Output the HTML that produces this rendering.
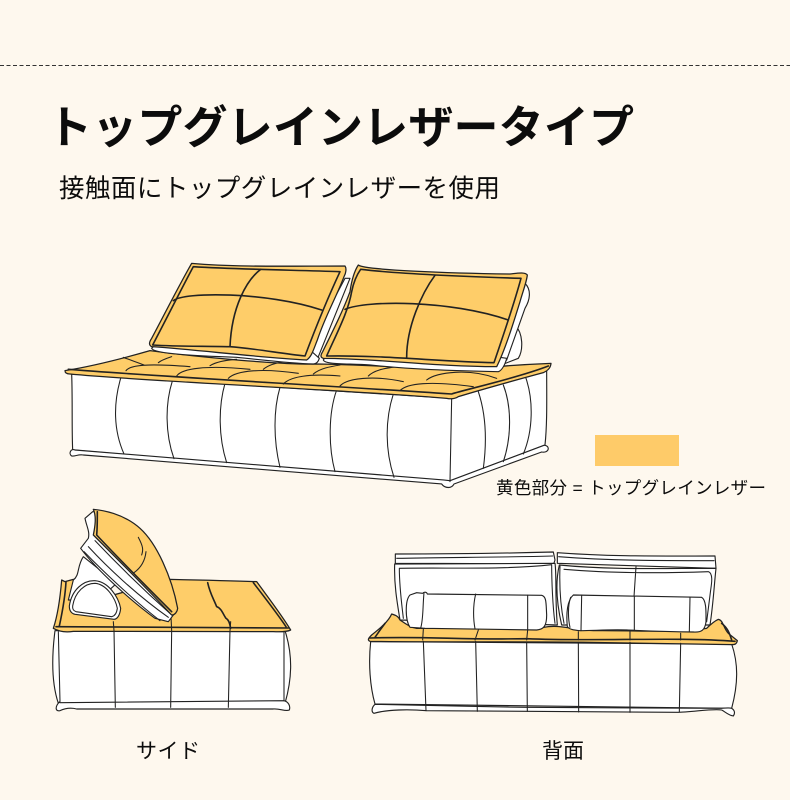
<!DOCTYPE html>
<html lang="ja"><head><meta charset="utf-8"><style>
html,body{margin:0;padding:0;background:#fef8ee}
svg{display:block}
text{font-family:"Liberation Sans","Noto Sans CJK JP",sans-serif;fill:#0c0c0c}
.w{fill:#fff;stroke:#222;stroke-width:3.4;stroke-linejoin:round}
.y{fill:#fecd69;stroke:#222;stroke-width:3.8;stroke-linejoin:round}
.l{fill:none;stroke:#222;stroke-width:3.2;stroke-linecap:round;stroke-linejoin:round}
.n{fill:none;stroke:#222;stroke-width:4.8;stroke-linecap:round;stroke-linejoin:round}
</style></head><body>
<svg width="790" height="800" viewBox="0 0 790 800" xmlns="http://www.w3.org/2000/svg">
<rect width="790" height="800" fill="#fef8ee"/>
<line x1="0" y1="65.5" x2="790" y2="65.5" stroke="#333" stroke-width="1" stroke-dasharray="4 2.5"/>
<text x="47" y="143" font-size="45" font-weight="700" textLength="587" lengthAdjust="spacing">トップグレインレザータイプ</text>
<text x="59" y="197" font-size="25.5" textLength="441" lengthAdjust="spacing">接触面にトップグレインレザーを使用</text>
<rect x="595" y="435" width="84" height="31" fill="#fecb69"/>
<text x="496" y="494" font-size="17.5" textLength="270" lengthAdjust="spacing">黄色部分 = トップグレインレザー</text>
<text x="136" y="758" font-size="21" textLength="64" lengthAdjust="spacing">サイド</text>
<text x="542" y="758" font-size="21" textLength="42" lengthAdjust="spacing">背面</text>

<g transform="translate(50 250) scale(.33333)">
<path class="w" d="M1395,225 C1420,250 1420,300 1405,325 L1340,350 L1370,290Z"/>
<path class="w" d="M1425,100 C1445,120 1440,150 1425,175 L1370,330 L1340,365 L1300,360Z"/>
<path class="w" d="M885,85 L900,85 L805,320 L790,335 L760,320Z"/>
<path class="w" d="M65,372 C68,450 65,530 68,600 L1195,695 L1485,585 C1492,520 1490,440 1490,362 L1205,445Z"/>
<path class="w" d="M75,600 C62,594 55,612 65,618 C75,620 85,612 100,615 L1175,702 C1185,716 1205,716 1212,702 L1475,606 C1500,610 1500,585 1482,586 L1200,692 L1180,690Z"/>
<path class="l" d="M212,385 C190,460 190,540 222,612M368,390 C345,460 345,550 372,626M525,400 C505,470 505,560 530,638M690,412 C670,480 670,570 690,652M860,420 C835,490 835,590 855,665M1030,432 C1005,510 1005,600 1032,682M1205,445 L1200,695M1285,425 C1310,500 1310,580 1300,655M1360,405 C1385,470 1385,560 1360,635M1428,385 C1450,450 1450,540 1420,612"/>
<path class="y" d="M45,362 C120,350 220,325 300,302 C450,322 700,345 805,342 C1000,345 1200,365 1340,350 C1400,345 1450,342 1503,340 C1502,355 1490,364 1480,368 C1380,395 1290,420 1225,440 C1215,447 1200,447 1190,445 C900,420 300,395 60,372 C50,372 45,368 45,362Z"/>
<path class="n" d="M55,358 C300,378 800,405 1205,432 C1240,420 1400,385 1495,348"/>
<path class="l" d="M220,322 C240,330 265,338 282,345M325,338 C335,330 350,325 365,320M228,362 C240,345 290,340 420,350M380,378 C395,355 470,345 600,358M480,347 C500,335 530,330 560,328M535,385 C560,360 640,355 745,370M640,358 C655,345 675,340 700,335M700,402 C720,380 780,370 870,378M790,372 C810,355 840,350 870,345M870,408 C890,385 970,375 1060,395M955,378 C970,362 1000,355 1040,350M1050,422 C1070,400 1140,392 1270,410M1130,390 C1160,365 1260,355 1340,385"/>
<path class="w" d="M305,295 C310,312 450,318 560,322 C640,330 720,340 790,342 C800,342 805,335 808,325 L780,300 L320,280Z"/>
<path class="w" d="M820,330 C825,345 900,340 960,345 C1080,358 1200,362 1345,365 C1355,362 1365,345 1370,325 L1200,300 L840,300Z"/>
<path class="y" d="M425,40 C560,52 720,48 885,48 C890,55 888,70 882,80 C855,150 825,200 802,270 C790,300 785,320 770,330 C620,322 450,300 305,290 C295,285 298,275 305,265 C345,190 385,110 425,40Z"/>
<path class="n" d="M430,50 C560,58 720,60 870,65 C835,140 800,225 765,318 C690,310 610,295 540,290 C460,288 380,290 308,285 C350,205 390,125 430,50Z"/>
<path class="n" d="M370,152 C400,125 650,125 815,180M632,58 C590,90 545,170 540,290"/>
<path class="y" d="M925,45 C940,60 1200,70 1380,72 C1400,70 1425,65 1432,75 C1430,95 1420,120 1410,155 C1390,220 1365,300 1340,350 C1150,350 980,325 820,325 C810,322 812,315 818,305 C850,240 880,180 900,125 C905,90 915,60 925,45Z"/>
<path class="n" d="M932,58 C1050,72 1250,80 1413,85 C1390,170 1360,255 1332,338 C1170,335 1000,315 830,318 C860,250 895,185 905,125 C910,100 920,75 932,58Z"/>
<path class="n" d="M885,178 C950,150 1200,150 1375,210M1155,76 C1115,130 1070,230 1070,322"/>
</g>

<g transform="translate(40 500) scale(.33333)">
<path class="w" d="M45,392 C35,470 35,550 55,610 L735,610 C755,540 760,470 735,392Z"/>
<path class="w" d="M58,606 C45,620 45,635 60,632 C75,625 90,622 110,627 L700,627 C720,625 735,635 748,630 C752,618 745,605 732,602 L60,608Z"/>
<path class="l" d="M55,395 L60,605M222,390 L226,622M395,390 L392,622M570,390 L565,622M732,395 L732,602"/>
<path class="y" d="M65,240 L75,245 L100,238 L130,310 L390,238 C480,240 570,242 650,245 C690,300 725,345 752,390 C740,396 720,396 700,395 L100,394 C80,397 60,397 40,385 C50,355 60,300 65,240Z"/>
<path class="n" d="M48,380 L745,384 M78,245 C75,300 65,345 58,378M640,248 C680,300 715,345 738,380"/>
<path class="l" d="M220,365 L222,392M393,350 L395,392M572,365 L570,392"/>
<path class="n" d="M503,248 C510,280 520,295 530,320 C545,325 550,345 558,355 C568,360 570,375 572,385"/>
<path class="w" d="M130,170 C110,200 120,225 100,240 L85,300 L175,300 L230,250Z"/>
<path class="w" d="M88,318 C95,270 130,240 165,242 C205,245 235,290 242,325 C240,345 232,358 222,358 L105,343 C92,340 88,330 88,318Z"/>
<path class="l" d="M98,318 C105,275 135,250 165,250 C200,253 226,295 232,325 C230,340 225,348 215,350 L108,335 C100,332 97,326 98,318Z"/>
<path class="w" d="M158,35 L135,55 C140,80 150,95 145,115 L122,145 C170,210 270,300 345,355 L385,365 L400,345 L200,120 L172,35Z"/>
<path class="l" d="M132,155 C190,215 280,300 360,362M145,140 C200,200 290,285 385,352M165,122 C220,180 300,260 395,345"/>
<path class="y" d="M160,28 C185,30 250,40 300,85 C350,130 395,230 413,325 C412,335 405,345 395,345 C320,265 235,180 160,105 C165,80 170,50 160,28Z"/>
<path class="n" d="M172,35 C172,60 172,85 170,105 C240,180 325,265 395,335"/>
<path class="l" d="M295,112 C310,140 310,150 305,165M318,155 C315,185 300,205 282,218"/>
</g>

<g transform="translate(360 540) scale(.33333)">
<path class="w" d="M106,42 C250,42 430,40 580,36 L585,60 L580,75 C430,70 250,70 106,70Z"/>
<path class="w" d="M592,38 C750,50 900,48 1065,48 L1068,85 L592,70Z"/>
<path class="l" d="M110,55 C260,52 430,52 578,48M596,50 C750,62 900,62 1062,62"/>
<path class="w" d="M104,72 C250,70 430,72 585,70 C590,100 585,180 592,255 L120,240 C110,180 102,130 104,72Z"/>
<path class="w" d="M598,75 C750,90 900,85 1068,85 C1062,140 1060,190 1050,255 L605,255 C590,190 585,130 598,75Z"/>
<path class="l" d="M118,85 C260,82 430,90 575,74 C575,120 578,200 585,250M118,85 C118,140 125,190 130,235M612,88 C750,100 900,100 1045,95 C1060,100 1055,130 1052,150 L1040,245M600,78 C598,130 600,190 612,250M828,80 L822,170"/>
<path class="w" d="M32,305 C25,370 30,440 45,492 L1115,505 C1135,430 1135,370 1115,312Z"/>
<path class="y" d="M95,222 C105,225 115,228 120,240 C135,250 150,262 170,265 L550,262 C600,252 640,270 700,272 C800,270 950,280 1040,265 C1050,255 1060,245 1075,238 C1090,240 1090,265 1105,280 L1132,302 C1130,312 1125,314 1115,314 L690,307 C500,304 200,307 30,304 C20,300 28,292 35,285 C60,265 85,245 95,222Z"/>
<path class="n" d="M30,294 C200,288 300,300 500,296 C700,305 950,290 1125,304M75,250 C60,270 50,285 45,292M1085,250 C1105,265 1110,285 1115,300"/>
<path class="l" d="M190,268 L188,300M355,270 L345,300M503,270 L500,300M655,275 L655,300M810,275 L810,300M962,280 L962,300"/>
<path class="w" d="M45,493 C35,502 33,516 42,520 C80,508 150,508 200,512 L950,517 C1000,516 1060,505 1085,510 C1095,515 1105,526 1120,528 C1126,520 1124,510 1115,505 C1105,502 1095,505 1085,505 L500,502 C350,500 150,495 45,493Z"/>
<path class="l" d="M190,304 L198,512M347,304 L352,514M500,307 L502,514M655,307 L656,516M810,307 L810,517M962,310 L958,516"/>
<path class="w" d="M170,158 L188,160 C192,155 200,155 202,162 L545,166 C560,170 558,190 560,225 C560,260 550,268 530,270 L195,265 L150,262 C135,240 135,180 150,165Z"/>
<path class="l" d="M192,158 C188,200 190,240 182,264M347,162 C338,200 340,240 345,266M503,166 L503,268"/>
<path class="w" d="M640,165 L1025,172 C1040,180 1038,220 1038,245 C1035,270 1025,278 1000,276 C900,275 850,272 800,270 C750,268 700,272 660,272 C640,270 628,268 622,260 C618,220 622,180 640,165Z"/>
<path class="l" d="M665,165 L663,272M823,168 L823,272M990,172 L988,276M632,172 C622,200 625,240 630,262"/>
</g>
</svg>
</body></html>
